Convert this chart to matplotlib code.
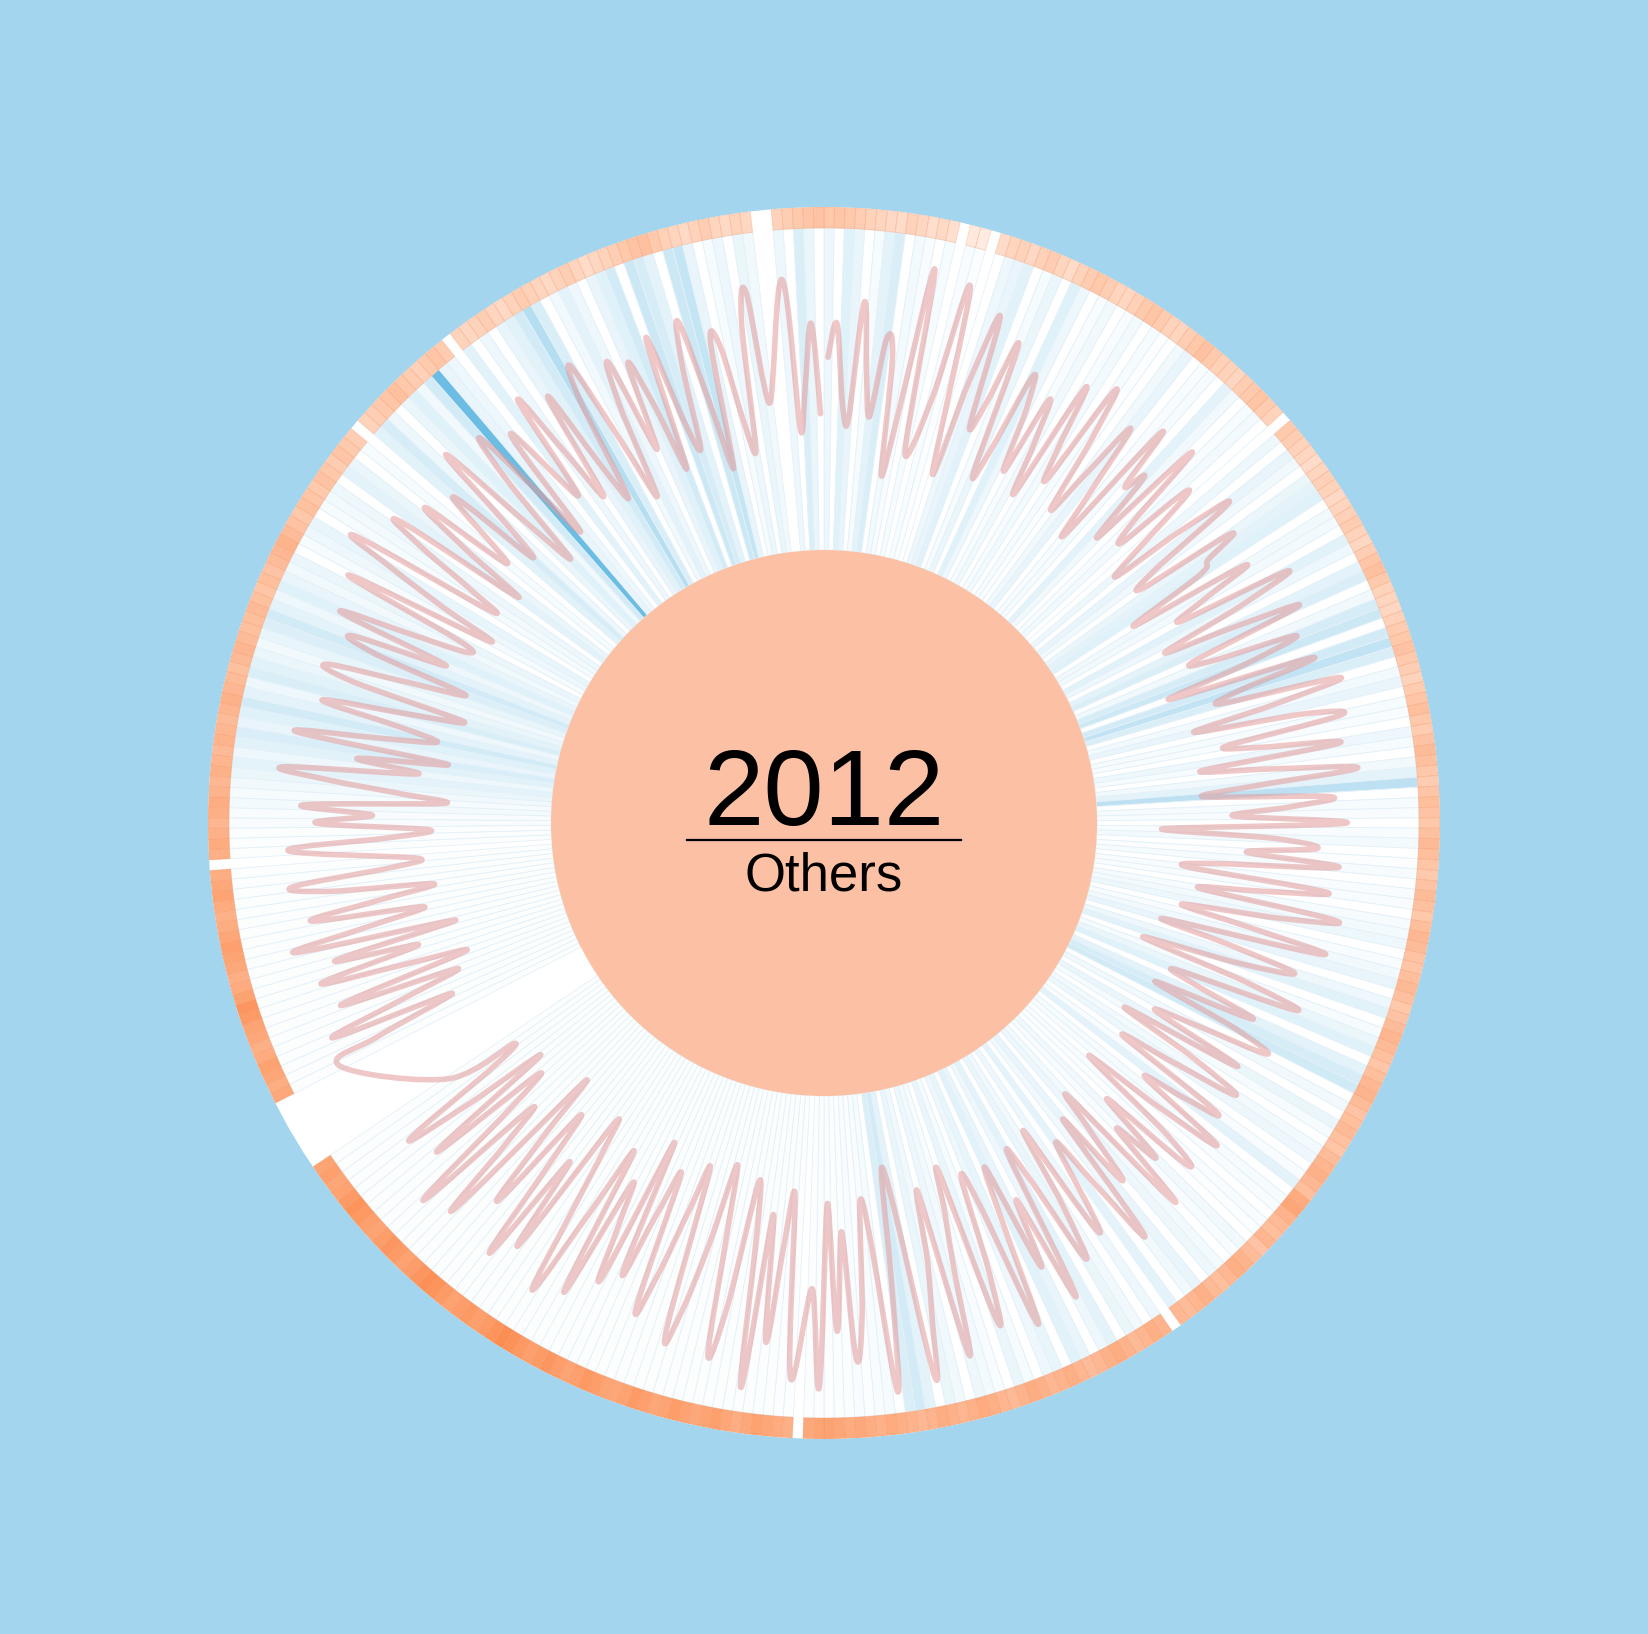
import numpy as np
import matplotlib
matplotlib.use("Agg")
import matplotlib.pyplot as plt
from matplotlib.path import Path
from matplotlib.patches import PathPatch
from matplotlib.colors import LinearSegmentedColormap

year = "2012"
label = "Others"
n_days = 366

# outer ring: daily warmth (0-100), None = no record that day
heat = [40, 42, 38, 35, 30, 28, 24, 22, 30, 26,
        20, 24, 18, None, 10, 8, None, 22, 28, 30,
        25, 32, 35, 28, 22, 30, 36, 40, 34, 28,
        26, 32, 38, 42, 36, 30, 28, 34, 40, 45,
        38, 32, 30, 26, 34, 38, 42, 36, 30, None,
        38, 34, 30, 26, 22, 28, 32, 30, 24, 28,
        32, 36, 30, 26, 34, 42, 46, 38, 30, 28,
        26, 32, 36, 40, 44, 38, 34, 30, 36, 42,
        48, 40, 36, 44, 50, 46, 40, 36, 42, 48,
        44, 40, 46, 52, 48, 42, 38, 44, 50, 46,
        40, 48, 54, 50, 44, 42, 48, 52, 46, 40,
        44, 50, 56, 52, 46, 42, 48, 54, 58, 50,
        44, 48, 52, 46, 42, 50, 56, 60, 54, 48,
        66, 70, 58, 52, 48, 56, 44, 50, 58, 62,
        54, 48, 52, 60, 56, 50, 54, None, 58, 62,
        56, 52, 58, 64, 60, 54, 50, 56, 62, 58,
        54, 60, 64, 58, 52, 56, 62, 66, 60, 56,
        60, 64, 58, 54, 58, 62, 66, 60, 64, 68,
        66, 70, 74, 72, 68, None, 62, 66, 70, 74,
        68, 64, 70, 76, 72, 68, 74, 78, 72, 70,
        76, 80, 74, 70, 72, 78, 82, 76, 72, 78,
        84, 80, 76, 82, 88, 92, 86, 80, 76, 82,
        78, 74, 80, 86, 90, 84, 78, 74, 80, 84,
        78, 72, 76, 82, 86, 80, 74, 70, 76, 72,
        None, None, None, None, None, None, None, 68, 64, 70,
        74, 66, 62, 68, 72, 80, 84, 74, 66, 62,
        68, 72, 76, 70, 64, 60, 66, 72, 68, 64,
        None, 62, 66, 60, 56, 62, 64, 58, 54, 60,
        56, 52, 58, 54, 50, 56, 60, 54, 50, 46,
        52, 56, 50, 46, 48, 52, 46, 42, 48, 44,
        50, 54, 58, 50, 44, 40, 46, 42, 38, 44,
        40, 36, 42, 38, 34, None, 30, 34, 38, 42,
        46, 40, 36, 32, 38, 42, 36, None, 30, 26,
        30, 34, 28, 24, 30, 36, 32, 28, 24, 30,
        34, 28, 22, 26, 30, 34, 40, 44, 46, 38,
        32, 28, 24, 30, 34, 28, 24, 30, 26, None,
        None, 30, 34, 38, 42, 44]

# inner wedges: daily rain (0-100)
rain = [12, 0, 22, 15, 0, 6, 18, 25, 0, 8,
        5, 0, 6, None, 4, 3, None, 0, 12, 15,
        20, 0, 6, 14, 0, 22, 12, 0, 5, 10,
        0, 4, 8, 0, 6, 3, 0, 10, 15, 0,
        4, 6, 0, 18, 10, 0, 4, 8, 0, None,
        12, 0, 15, 10, 0, 14, 18, 22, 0, 10,
        8, 0, 20, 12, 0, 18, 25, 0, 10, 28,
        35, 0, 30, 42, 25, 0, 8, 15, 0, 6,
        5, 0, 12, 6, 0, 10, 18, 45, 0, 6,
        4, 0, 5, 8, 0, 3, 6, 0, 5, 4,
        0, 6, 8, 12, 0, 4, 10, 15, 0, 12,
        20, 0, 6, 14, 22, 0, 18, 28, 32, 0,
        10, 0, 14, 6, 0, 8, 12, 0, 4, 18,
        0, 6, 4, 0, 5, 3, 0, 10, 4, 0,
        8, 12, 0, 15, 10, 0, 18, None, 12, 0,
        10, 14, 0, 18, 12, 0, 15, 20, 0, 16,
        12, 0, 6, 14, 0, 5, 8, 12, 0, 10,
        14, 0, 18, 30, 25, 0, 6, 4, 3, 5,
        3, 2, 3, 2, 2, None, 2, 3, 2, 2,
        3, 2, 2, 2, 3, 2, 2, 2, 3, 2,
        2, 2, 2, 3, 2, 2, 2, 2, 3, 2,
        2, 2, 2, 2, 2, 2, 2, 2, 2, 2,
        2, 2, 2, 2, 2, 2, 2, 2, 2, 2,
        2, 2, 2, 2, 2, 2, 2, 2, 2, 2,
        None, None, None, None, None, None, None, 2, 2, 2,
        2, 2, 2, 2, 2, 2, 2, 2, 2, 2,
        2, 2, 2, 2, 2, 2, 2, 2, 2, 2,
        None, 2, 3, 2, 4, 5, 8, 6, 10, 14,
        18, 12, 20, 26, 15, 22, 30, 18, 12, 25,
        20, 14, 10, 16, 24, 30, 18, 12, 22, 15,
        10, 14, 0, 6, 12, 16, 0, 6, 8, 12,
        0, 18, 14, 0, 6, None, 20, 28, 12, 0,
        14, 22, 10, 30, 100, 15, 12, None, 20, 0,
        12, 0, 15, 20, 30, 50, 25, 0, 10, 18,
        12, 0, 15, 22, 30, 0, 35, 28, 18, 0,
        35, 40, 15, 0, 6, 12, 0, 14, 10, None,
        None, 12, 0, 25, 14, 0]

# red line: daily reading (0-100)
reading = [60, 72, 45, 38, 80, 55, 40, 68, 62, 20,
           45, 95, 30, None, 50, 92, None, 25, 60, 85,
           45, 55, 78, 30, 40, 70, 58, 35, 65, 48,
           30, 75, 52, 40, 80, 60, 32, 50, 72, 45,
           28, 78, 55, 62, 35, 80, 48, 40, 70, None,
           30, 58, 78, 42, 35, 72, 60, 55, 25, 70,
           52, 40, 82, 62, 30, 55, 80, 38, 45, 75,
           55, 25, 78, 50, 42, 85, 60, 30, 70, 82,
           40, 52, 80, 30, 55, 85, 48, 30, 75, 60,
           40, 80, 15, 55, 70, 45, 78, 35, 25, 75,
           52, 30, 80, 60, 25, 50, 78, 20, 45, 70,
           50, 15, 55, 75, 30, 40, 62, 25, 58, 72,
           45, 30, 65, 20, 50, 70, 45, 25, 68, 55,
           40, 75, 50, 20, 60, 72, 35, 62, 45, 78,
           25, 40, 60, 30, 80, 55, 35, None, 70, 25,
           55, 75, 40, 30, 85, 45, 70, 30, 50, 88,
           40, 30, 65, 82, 25, 40, 60, 90, 30, 55,
           75, 95, 35, 20, 60, 98, 45, 30, 70, 85,
           40, 75, 30, 95, 60, None, 92, 28, 45, 80,
           35, 97, 40, 25, 70, 88, 45, 20, 50, 75,
           85, 25, 40, 65, 80, 30, 45, 70, 20, 75,
           55, 40, 85, 30, 55, 90, 60, 35, 25, 80,
           45, 88, 50, 30, 72, 45, 20, 85, 55, 40,
           90, 45, 30, 75, 25, 55, 80, 40, 30, 55,
           None, None, None, None, None, None, None, 87, 70, 40,
           85, 55, 35, 78, 30, 50, 82, 45, 75, 30,
           88, 60, 40, 80, 55, 35, 72, 85, 50, 40,
           None, 85, 50, 35, 75, 55, 80, 30, 45, 70,
           88, 40, 62, 30, 85, 55, 35, 50, 78, 45,
           28, 70, 80, 50, 30, 65, 75, 40, 82, 55,
           35, 40, 85, 30, 50, 72, 90, 35, 45, 68,
           80, 30, 55, 75, 40, None, 70, 35, 50, 82,
           45, 25, 60, 78, 50, 30, 72, None, 40, 80,
           55, 35, 75, 45, 30, 68, 80, 50, 25, 60,
           75, 40, 72, 55, 30, 78, 45, 35, 65, 80,
           50, 25, 70, 68, 40, 30, 75, 85, 45, None,
           None, 88, 35, 50, 72, 40]

heat = np.array(heat, dtype=float)
rain = np.array(rain, dtype=float)
reading = np.array(reading, dtype=float)

theta = (np.arange(n_days) + 0.5) * 2 * np.pi / n_days
step = 2 * np.pi / n_days

R_CORE, R_IN, R_OUT = 273, 595, 616
LINE_LO, LINE_HI = 296, 579

heat_cmap = LinearSegmentedColormap.from_list("heat", ["#fff4ee", "#fc8545"])
rain_cmap = LinearSegmentedColormap.from_list("rain", ["#ffffff", "#6cbde3"])

fig = plt.figure(figsize=(16.48, 16.34), dpi=100, facecolor="#a3d5ee")
ax = fig.add_axes([208 / 1648, 195 / 1634, 1232 / 1648, 1232 / 1634], projection="polar")
ax.set_theta_zero_location("N")
ax.set_theta_direction(-1)
ax.set_facecolor("white")
ax.grid(False)
ax.set_xticks([])
ax.set_yticks([])
ax.spines["polar"].set_visible(False)

# rain wedges
ok = ~np.isnan(rain)
ax.bar(theta[ok], R_IN - R_CORE, width=step, bottom=R_CORE,
       color=rain_cmap(rain[ok] / 100), edgecolor="#e4f1f9", linewidth=0.6)

# heat ring
ok = ~np.isnan(heat)
ax.bar(theta[ok], R_OUT - R_IN, width=step, bottom=R_IN,
       color=heat_cmap(heat[ok] / 100), edgecolor=(0.96, 0.55, 0.35, 0.3), linewidth=0.6)

# red line, smoothed with catmull-rom
ok = ~np.isnan(reading)
pts = np.column_stack([theta[ok], LINE_LO + reading[ok] / 100 * (LINE_HI - LINE_LO)])
ext = np.vstack([pts[0], pts, pts[-1]])
verts = [pts[0]]
codes = [Path.MOVETO]
for i in range(len(pts) - 1):
    p0, p1, p2, p3 = ext[i], ext[i + 1], ext[i + 2], ext[i + 3]
    verts += [p1 + (p2 - p0) / 6, p2 - (p3 - p1) / 6, p2]
    codes += [Path.CURVE4] * 3
ax.add_patch(PathPatch(Path(verts, codes), facecolor="none", edgecolor="#e29a9a",
                       alpha=0.55, lw=4.0, capstyle="round", joinstyle="round", zorder=3))

# core
ax.bar(0, R_CORE, width=2 * np.pi, bottom=0, color="#fcc1a5", linewidth=0, zorder=4)

ax.text(0.5, 0.4984, year, transform=ax.transAxes, ha="center", va="baseline",
        fontsize=78, family="Liberation Sans", zorder=5)
ax.plot([0.389, 0.611], [0.4862, 0.4862], transform=ax.transAxes, color="black", lw=1.6, zorder=5)
ax.text(0.5, 0.4456, label, transform=ax.transAxes, ha="center", va="baseline",
        fontsize=38, family="Liberation Sans", zorder=5)

ax.set_ylim(0, R_OUT)
fig.savefig("out.png", dpi=100, facecolor=fig.get_facecolor())
